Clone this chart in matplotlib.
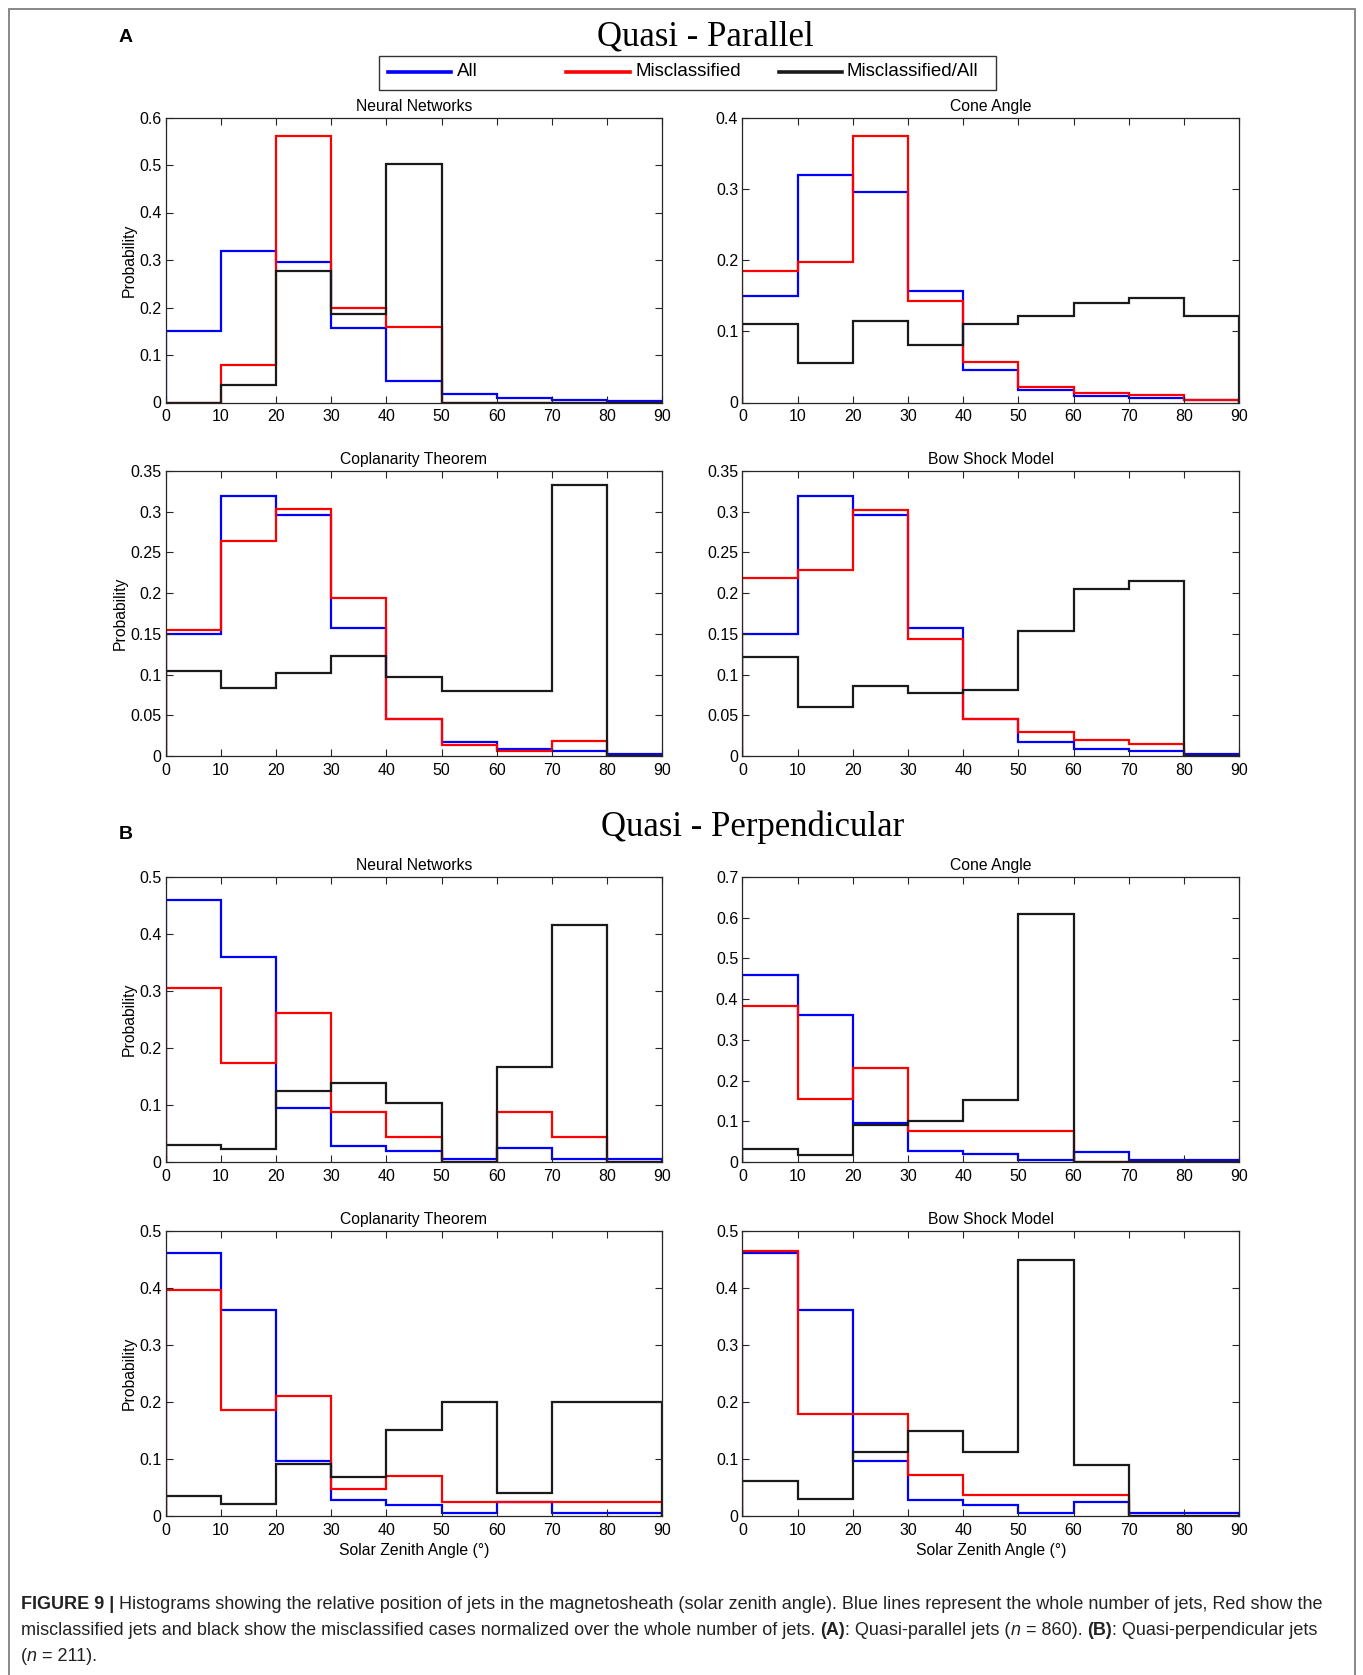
import numpy as np
import matplotlib.pyplot as plt
from matplotlib import font_manager
from matplotlib.lines import Line2D
from matplotlib.patches import Rectangle
from matplotlib.ticker import FuncFormatter

plt.rcParams['font.family'] = ['Liberation Sans', 'DejaVu Sans']

W, H = 1363, 1675

# bin edges (solar zenith angle, degrees)
edges = np.arange(0, 100, 10)

# A: quasi-parallel jets
par_all = [0.150, 0.319, 0.296, 0.157, 0.046, 0.017, 0.009, 0.006, 0.003]
par_nn_mis = [0.0, 0.080, 0.561, 0.200, 0.160, 0.0, 0.0, 0.0, 0.0]
par_nn_ratio = [0.0, 0.037, 0.277, 0.186, 0.502, 0.0, 0.0, 0.0, 0.0]
par_cone_mis = [0.184, 0.197, 0.374, 0.142, 0.057, 0.022, 0.013, 0.010, 0.003]
par_cone_ratio = [0.110, 0.055, 0.114, 0.081, 0.110, 0.122, 0.140, 0.147, 0.122]
par_cop_mis = [0.155, 0.264, 0.303, 0.194, 0.045, 0.013, 0.006, 0.019, 0.0]
par_cop_ratio = [0.104, 0.083, 0.102, 0.123, 0.097, 0.080, 0.080, 0.333, 0.0]
par_bow_mis = [0.218, 0.228, 0.302, 0.144, 0.045, 0.030, 0.020, 0.015, 0.0]
par_bow_ratio = [0.122, 0.060, 0.086, 0.077, 0.081, 0.154, 0.205, 0.215, 0.0]

# B: quasi-perpendicular jets
perp_all = [0.460, 0.360, 0.095, 0.028, 0.019, 0.005, 0.024, 0.005, 0.005]
perp_nn_mis = [0.305, 0.174, 0.261, 0.087, 0.044, 0.0, 0.087, 0.044, 0.0]
perp_nn_ratio = [0.030, 0.022, 0.125, 0.139, 0.104, 0.0, 0.166, 0.416, 0.0]
perp_cone_mis = [0.384, 0.154, 0.231, 0.077, 0.077, 0.077, 0.0, 0.0, 0.0]
perp_cone_ratio = [0.032, 0.016, 0.092, 0.101, 0.152, 0.609, 0.0, 0.0, 0.0]
perp_cop_mis = [0.396, 0.186, 0.209, 0.047, 0.070, 0.023, 0.023, 0.023, 0.023]
perp_cop_ratio = [0.035, 0.020, 0.090, 0.067, 0.150, 0.200, 0.040, 0.200, 0.200]
perp_bow_mis = [0.464, 0.179, 0.179, 0.071, 0.036, 0.036, 0.036, 0.0, 0.0]
perp_bow_ratio = [0.060, 0.029, 0.112, 0.149, 0.112, 0.448, 0.089, 0.0, 0.0]

titles = ['Neural Networks', 'Cone Angle', 'Coplanarity Theorem', 'Bow Shock Model']
legend_labels = ['All', 'Misclassified', 'Misclassified/All']
colors = ['#0000ff', '#ff0000', '#1a1a1a']

panels = [
    # (row, col, all, mis, ratio, ymax, ystep)
    (0, 0, par_all, par_nn_mis, par_nn_ratio, 0.6, 0.1),
    (0, 1, par_all, par_cone_mis, par_cone_ratio, 0.4, 0.1),
    (1, 0, par_all, par_cop_mis, par_cop_ratio, 0.35, 0.05),
    (1, 1, par_all, par_bow_mis, par_bow_ratio, 0.35, 0.05),
    (2, 0, perp_all, perp_nn_mis, perp_nn_ratio, 0.5, 0.1),
    (2, 1, perp_all, perp_cone_mis, perp_cone_ratio, 0.7, 0.1),
    (3, 0, perp_all, perp_cop_mis, perp_cop_ratio, 0.5, 0.1),
    (3, 1, perp_all, perp_bow_mis, perp_bow_ratio, 0.5, 0.1),
]

fig = plt.figure(figsize=(W / 100, H / 100), dpi=100)

# axes boxes in pixels
col_x = [165.6, 742.4]
ax_w = 496.7
row_top = [117.5, 471.0, 877.0, 1230.6]
ax_h = 285.0

for row, col, a, m, r, ymax, ystep in panels:
    x0 = col_x[col]
    y0 = row_top[row]
    ax = fig.add_axes([x0 / W, 1 - (y0 + ax_h) / H, ax_w / W, ax_h / H])
    for vals, c in zip([a, m, r], colors):
        ax.stairs(vals, edges, baseline=0, color=c, lw=1.6)
    ax.set_xlim(0, 90)
    ax.set_ylim(0, ymax)
    ax.set_xticks(edges)
    ax.set_yticks(np.arange(0, ymax + ystep / 2, ystep))
    ax.yaxis.set_major_formatter(FuncFormatter(lambda v, p: f'{v:g}'))
    ax.tick_params(direction='in', top=True, right=True, length=5,
                   width=0.8, labelsize=11.5, colors='#262626')
    ax.tick_params(axis='x', pad=5)
    ax.tick_params(axis='y', pad=3)
    ax.tick_params(axis='both', labelcolor='black')
    for s in ax.spines.values():
        s.set_color('#262626')
        s.set_linewidth(0.9)
    ax.set_title(titles[row % 2 * 2 + col], fontsize=11.3, pad=5)
    if col == 0:
        ax.set_ylabel('Probability', fontsize=11.3, labelpad=2)
    if row == 3:
        ax.set_xlabel('Solar Zenith Angle (°)', fontsize=11.3, labelpad=4)

# section titles and letters
fig.text(705 / W, 1 - 37 / H, 'Quasi - Parallel', family='Liberation Serif',
         fontsize=25, ha='center', va='center')
fig.text(753 / W, 1 - 827 / H, 'Quasi - Perpendicular', family='Liberation Serif',
         fontsize=25, ha='center', va='center')
fig.text(126 / W, 1 - 37 / H, 'A', fontsize=14, fontweight='bold', ha='center', va='center')
fig.text(126 / W, 1 - 835 / H, 'B', fontsize=14, fontweight='bold', ha='center', va='center')

# legend, laid out like the original box
fig.patches.append(Rectangle((379.2 / W, 1 - 89.7 / H), (995.6 - 379.2) / W, 34.2 / H,
                             transform=fig.transFigure, fill=False,
                             edgecolor='#333333', lw=1.0))
leg_line_x = [(387.8, 450.8), (566.1, 630.2), (778.7, 841.7)]
leg_text_x = [457.2, 635.6, 846.0]
leg_y = 1 - 71.8 / H
for (lx0, lx1), tx, c, lab in zip(leg_line_x, leg_text_x, colors, legend_labels):
    fig.add_artist(Line2D([lx0 / W, lx1 / W], [leg_y, leg_y], color=c, lw=2.6,
                          transform=fig.transFigure))
    fig.text(tx / W, leg_y, lab, fontsize=13.5, ha='left', va='center')

# outer frame
fig.patches.append(Rectangle((8.5 / W, -0.02), (1355 - 8.5) / W, 1.02 - 8.5 / H,
                             transform=fig.transFigure, fill=False,
                             edgecolor='#7f7f7f', lw=1.3))

# caption
names = {f.name for f in font_manager.fontManager.ttflist}
cap_font = 'Liberation Sans Narrow' if 'Liberation Sans Narrow' in names else 'Liberation Sans'
renderer = fig.canvas.get_renderer()


def text_width(s, size, **kw):
    t = fig.text(0, 0, s, fontsize=size, family=cap_font, **kw)
    w = t.get_window_extent(renderer).width
    t.remove()
    return w


line1 = [('FIGURE 9 |', 'bold'),
         (' Histograms showing the relative position of jets in the magnetosheath (solar zenith angle). '
          'Blue lines represent the whole number of jets, Red show the', 'normal')]
line2 = [('misclassified jets and black show the misclassified cases normalized over the whole number of jets. ', 'normal'),
         ('(A)', 'bold'), (': Quasi-parallel jets (', 'normal'), ('n', 'italic'), (' = 860). ', 'normal'),
         ('(B)', 'bold'), (': Quasi-perpendicular jets', 'normal')]
line3 = [('(', 'normal'), ('n', 'italic'), (' = 211).', 'normal')]


def style_kw(st):
    if st == 'bold':
        return dict(fontweight='bold')
    if st == 'italic':
        return dict(fontstyle='italic')
    return {}


def line_width(runs, size, sp):
    total = 0
    for s, st in runs:
        lead = len(s) - len(s.lstrip(' '))
        trail = len(s) - len(s.rstrip(' '))
        total += (lead + trail) * sp + text_width(s.strip(' '), size, **style_kw(st))
    return total


base = 12
sp0 = text_width('x x', base) - text_width('xx', base)
w1 = line_width(line1, base, sp0)
cap_size = base * (1321 - 21) / w1
sp = text_width('x x', cap_size) - text_width('xx', cap_size)


def draw_line(runs, y_px):
    x = 21.0
    for s, st in runs:
        lead = len(s) - len(s.lstrip(' '))
        trail = len(s) - len(s.rstrip(' '))
        x += lead * sp
        core = s.strip(' ')
        t = fig.text(x / W, 1 - y_px / H, core, fontsize=cap_size, family=cap_font,
                     ha='left', va='baseline', color='#222222', **style_kw(st))
        x += t.get_window_extent(renderer).width + trail * sp


draw_line(line1, 1609)
draw_line(line2, 1635)
draw_line(line3, 1661)

fig.savefig('out.png', dpi=100)
